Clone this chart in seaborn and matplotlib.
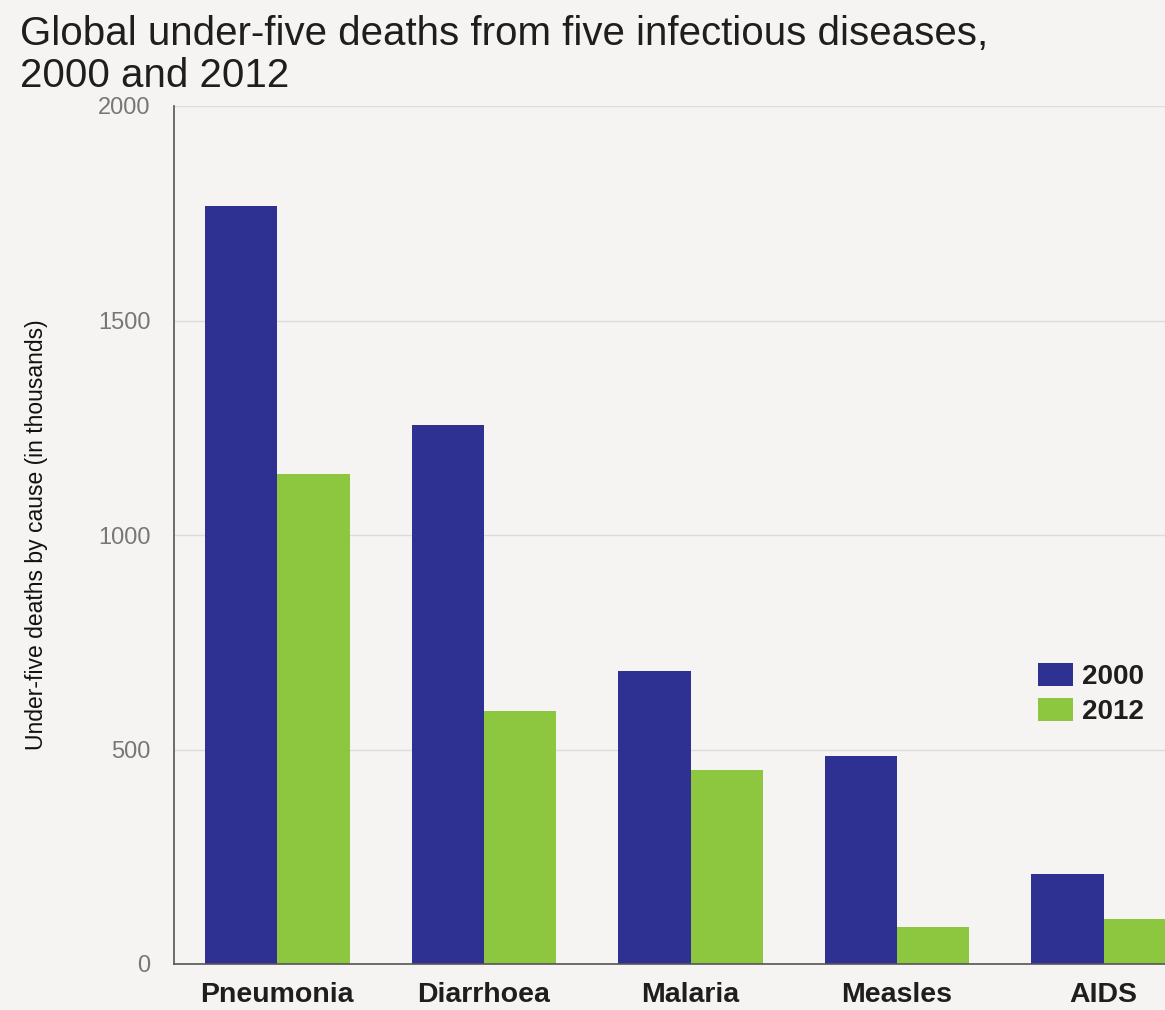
import matplotlib
matplotlib.use("Agg")
import matplotlib.pyplot as plt
from matplotlib.patches import Patch
import seaborn as sns
import pandas as pd

causes = ["Pneumonia", "Diarrhoea", "Malaria", "Measles", "AIDS"]
deaths_2000 = [1766, 1256, 683, 485, 210]
deaths_2012 = [1142, 590, 452, 86, 105]
years = ["2000", "2012"]
y_ticks = [0, 500, 1000, 1500, 2000]

df = pd.DataFrame({
    "cause": causes * 2,
    "year": [years[0]] * len(causes) + [years[1]] * len(causes),
    "deaths": deaths_2000 + deaths_2012,
})

bg = "#f5f4f2"
palette = {"2000": "#2e3192", "2012": "#8dc63f"}

sns.set_theme(style="white")
plt.rcParams["font.family"] = ["Liberation Sans", "DejaVu Sans"]

fig = plt.figure(figsize=(11.65, 10.10), dpi=100, facecolor=bg)
W, H = 1165, 1010
left, right, top, bottom = 174, 1207, 106, 964
ax = fig.add_axes([left / W, 1 - bottom / H, (right - left) / W, (bottom - top) / H])
ax.set_facecolor(bg)

sns.barplot(data=df, x="cause", y="deaths", hue="year", palette=palette,
            width=0.7, saturation=1, edgecolor="none", ax=ax, legend=False)

ax.set_ylim(0, 2000)
ax.set_xlim(-0.5, 4.5)
ax.set_yticks(y_ticks)
ax.set_yticklabels([str(v) for v in y_ticks], color="#777777", fontsize=17)
ax.tick_params(axis="y", length=0, pad=17)
ax.tick_params(axis="x", length=0, pad=13)
for lbl in ax.get_xticklabels():
    lbl.set_fontsize(20.5)
    lbl.set_color("#1e1e1e")
    lbl.set_fontweight("bold")
ax.set_xlabel("")
ax.set_ylabel("Under-five deaths by cause (in thousands)", fontsize=16.5,
              color="#111111", labelpad=36)
ax.yaxis.grid(True, color="#dcdcdc", linewidth=1)
ax.set_axisbelow(True)
for s in ["top", "right"]:
    ax.spines[s].set_visible(False)
for s in ["left", "bottom"]:
    ax.spines[s].set_color("#555555")
    ax.spines[s].set_linewidth(1.2)

# legend built from the year palette
handles = [Patch(facecolor=palette[y], edgecolor="none", label=y) for y in years]
leg = fig.legend(handles=handles, loc="upper left",
                 bbox_to_anchor=(1019 / W, 1 - 644 / H), frameon=False,
                 fontsize=20, handlelength=1.25, handleheight=0.85,
                 handletextpad=0.3, labelspacing=0.3, borderpad=0.2)
for t in leg.get_texts():
    t.set_fontweight("bold")
    t.set_color("#1e1e1e")

fig.text(20 / W, 1 - 15 / H,
         "Global under-five deaths from five infectious diseases,\n2000 and 2012",
         ha="left", va="top", fontsize=29, color="#1e1e1e", linespacing=1.12)

fig.savefig("out.png", dpi=100, facecolor=bg)
